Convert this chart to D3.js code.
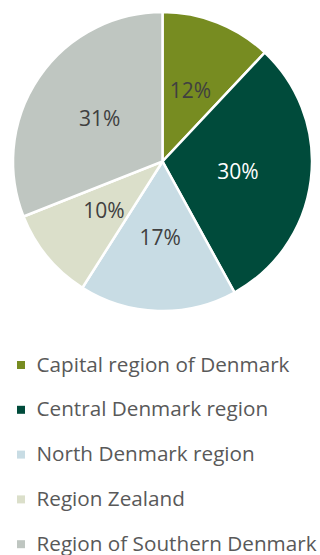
<!DOCTYPE html>
<html>
<head>
<meta charset="utf-8">
<script src="https://cdn.jsdelivr.net/npm/d3@7"></script>
<style>
  html, body { margin: 0; padding: 0; background: #fff; }
  svg { display: block; }
  text { font-family: "Open Sans", "Noto Sans", sans-serif; }
</style>
</head>
<body>
<svg id="chart" width="320" height="555"></svg>
<script>
// Share of respondents by Danish region
const regions = [
  "Capital region of Denmark",
  "Central Denmark region",
  "North Denmark region",
  "Region Zealand",
  "Region of Southern Denmark"
];
const shares = [12, 30, 17, 10, 31];
const colors = ["#778c21", "#004b3b", "#c8dce4", "#dbdfca", "#bfc6c1"];
const labelColors = ["#404040", "#ffffff", "#404040", "#404040", "#404040"];

const svg = d3.select("#chart");
const cx = 162.5, cy = 161.5, radius = 149.5;

const data = regions.map((name, i) => ({ name, value: shares[i], color: colors[i], labelColor: labelColors[i] }));

const pie = d3.pie().value(d => d.value).sort(null);
const arc = d3.arc().innerRadius(0).outerRadius(radius);
const labelArc = d3.arc().innerRadius(76).outerRadius(76);

const g = svg.append("g").attr("transform", `translate(${cx},${cy})`);
const arcs = pie(data);

g.selectAll("path")
  .data(arcs)
  .join("path")
  .attr("d", arc)
  .attr("fill", d => d.data.color)
  .attr("stroke", "#ffffff")
  .attr("stroke-width", 2.5)
  .attr("stroke-linejoin", "miter");

g.selectAll("text.pct")
  .data(arcs)
  .join("text")
  .attr("class", "pct")
  .attr("transform", d => `translate(${labelArc.centroid(d)})`)
  .attr("text-anchor", "middle")
  .attr("dy", "0.36em")
  .attr("font-size", 21)
  .attr("fill", d => d.data.labelColor)
  .text(d => d.data.value + "%");

// Legend
const legendY = d3.scaleBand().domain(regions).range([349, 573]).paddingInner(0);
const legend = svg.append("g");
const item = legend.selectAll("g")
  .data(data)
  .join("g")
  .attr("transform", d => `translate(0,${legendY(d.name)})`);

item.append("rect")
  .attr("x", 17)
  .attr("y", 12)
  .attr("width", 8)
  .attr("height", 8)
  .attr("fill", d => d.color);

item.append("text")
  .attr("x", 36.5)
  .attr("y", 22.7)
  .attr("font-size", 20.7)
  .attr("fill", "#595959")
  .text(d => d.name);
</script>
</body>
</html>
